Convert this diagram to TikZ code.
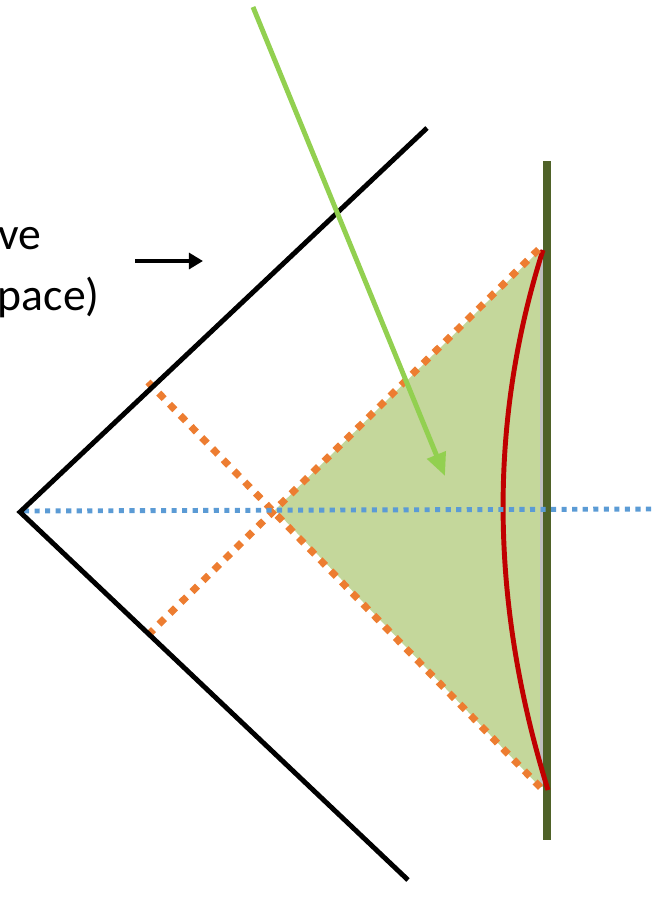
\documentclass[tikz,border=0pt]{standalone}
\usepackage{fontspec}
\setmainfont{Carlito}
\usetikzlibrary{arrows.meta}
\definecolor{blk}{HTML}{000000}
\definecolor{orng}{HTML}{ED7D31}
\definecolor{blu}{HTML}{5B9BD5}
\definecolor{barg}{HTML}{4F6228}
\definecolor{fillg}{HTML}{C4D79B}
\definecolor{redc}{HTML}{C00000}
\definecolor{lgreen}{HTML}{92D050}
\definecolor{greyl}{HTML}{BFBFBF}
\tikzset{
  wedge/.style={draw=blk, line width=2.8pt, line join=miter},
  orangedot/.style={draw=orng, line width=4pt, dash pattern=on 4.4pt off 4.4pt},
  bluedot/.style={draw=blu, line width=2.8pt, dash pattern=on 2.9pt off 3.1pt},
  barline/.style={draw=barg, line width=4.6pt},
  greyline/.style={draw=greyl, line width=1.8pt},
  redline/.style={draw=redc, line width=2.8pt},
  lgarrow/.style={draw=lgreen, line width=2.8pt, -{Triangle[length=13pt,width=11pt]}},
  blkarrow/.style={draw=blk, line width=2.5pt, -{Triangle[length=8pt,width=9pt]}},
  lbl/.style={font=\fontsize{26}{30}\selectfont, inner sep=0pt}
}
\begin{document}
\begin{tikzpicture}[x=0.02cm, y=-0.02cm]
\useasboundingbox (0,0) rectangle (656,910);
% coordinates
\coordinate (apex) at (20,512);
\coordinate (wtop) at (427,128);
\coordinate (wbot) at (408,880);
\coordinate (cross) at (275,510);
\coordinate (ttop) at (540,250);
\coordinate (tbot) at (540,787);
\coordinate (oA1) at (148,382);
\coordinate (oA2) at (541,788);
\coordinate (oB1) at (148,635);
\coordinate (oB2) at (539,249);
\coordinate (bl1) at (24,511);
\coordinate (bl2) at (656,509);
\coordinate (bartop) at (547,161);
\coordinate (barbot) at (547,840);
\coordinate (gtop) at (541.5,250);
\coordinate (gbot) at (541.5,787);
\coordinate (rtop) at (543,250);
\coordinate (rbot) at (548,790);
\coordinate (lg1) at (253,7);
\coordinate (lg2) at (445,476);
\coordinate (ba1) at (135,261);
\coordinate (ba2) at (203,261);
% fill
\fill[fillg] (cross) -- (ttop) -- (tbot) -- cycle;
\draw[greyline] (gtop) -- (gbot);
\draw[barline] (bartop) -- (barbot);
\draw[redline] (rtop) .. controls (488,423) and (490,603) .. (rbot);
% dotted lines
\draw[orangedot] (oA1) -- (oA2);
\draw[orangedot] (oB1) -- (oB2);
\draw[bluedot] (bl1) -- (bl2);
% wedge
\draw[wedge] (wtop) -- (apex) -- (wbot);
% arrows
\draw[lgarrow] (lg1) -- (lg2);
\draw[blkarrow] (ba1) -- (ba2);
% text
\node[lbl, anchor=base east] (t1) at (42,249) {ve};
\node[lbl, anchor=base east] (t2) at (100,310) {pace)};
\end{tikzpicture}
\end{document}
